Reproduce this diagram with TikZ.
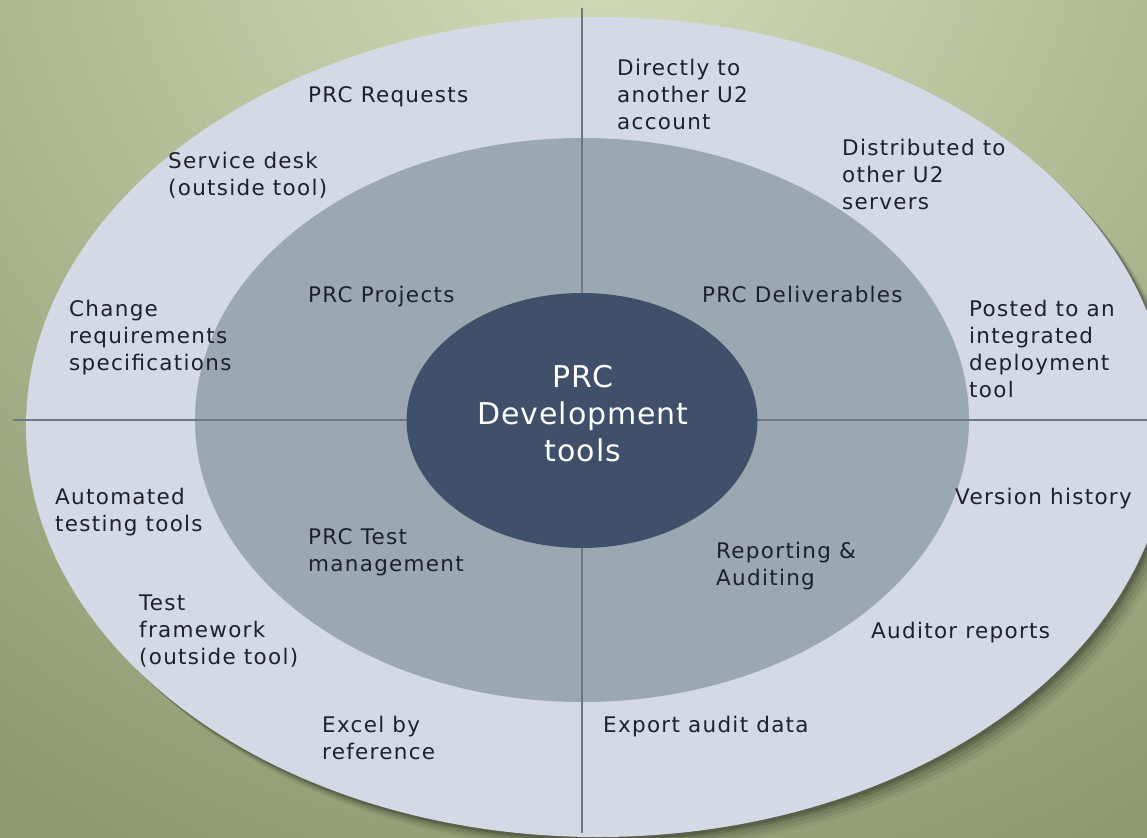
\documentclass[tikz,border=0pt]{standalone}
\usepackage{fontspec}
\setmainfont{DejaVu Sans}
\newfontfamily\lblfont[LetterSpace=6]{DejaVu Sans}
\newfontfamily\ctrfont[LetterSpace=3]{DejaVu Sans}
\usetikzlibrary{shapes.geometric}
\definecolor{bginner}{RGB}{214,222,188}
\definecolor{bgouter}{RGB}{140,152,110}
\definecolor{ringout}{RGB}{212,218,229}
\definecolor{ringmid}{RGB}{155,168,178}
\definecolor{ringcore}{RGB}{64,79,106}
\definecolor{axis}{RGB}{110,119,134}
\definecolor{txt}{RGB}{30,34,40}
\tikzset{
  lbl/.style={anchor=north west, inner sep=0pt, align=left, text=txt,
    font={\lblfont\fontsize{21.5}{27}\selectfont}},
  ctr/.style={inner sep=0pt, align=center, text=white,
    font={\ctrfont\fontsize{30}{37}\selectfont}},
  ring/.style={ellipse, inner sep=0pt, draw=none},
  axisline/.style={draw=axis, line width=1.6pt},
}
\begin{document}
\begin{tikzpicture}[x=1pt, y=-1pt]
\useasboundingbox (0,0) rectangle (1147,837);
% background
\begin{scope}
\clip (-10,-10) rectangle (1157,847);
\fill[bgouter] (-10,-10) rectangle (1157,847);
\shade[inner color=bginner, outer color=bgouter] (600,-120) circle (1100);
% soft shadow of the outer ellipse
\foreach \d/\o in {14/0.05,11/0.07,8/0.09,5/0.12,3/0.14}{
  \fill[black, opacity=\o] (598+\d,427+\d) ellipse [x radius=572, y radius=410];
}
\end{scope}
% rings
\node[ring, fill=ringout, minimum width=1144pt, minimum height=820pt] (outer) at (598,427) {};
\node[ring, fill=ringmid, minimum width=774pt, minimum height=564pt] (middle) at (582,420) {};
% axes
\coordinate (vtop) at (582,8);
\coordinate (vbot) at (582,833);
\coordinate (hleft) at (13,420);
\coordinate (hright) at (1147,420);
\draw[axisline] (vtop) -- (vbot);
\draw[axisline] (hleft) -- (hright);
% core
\node[ring, fill=ringcore, minimum width=351pt, minimum height=255pt] (core) at (582,420.5) {};
\node[ctr] (coretext) at (583,414) {PRC\\Development\\tools};
% labels
\node[lbl] (req) at (308,86) {PRC Requests};
\node[lbl] (desk) at (168,152) {Service desk\\(outside tool)};
\node[lbl] (direct) at (617,59) {Directly to\\another U2\\account};
\node[lbl] (distr) at (842,139) {Distributed to\\other U2\\servers};
\node[lbl] (proj) at (308,286) {PRC Projects};
\node[lbl] (deliv) at (702,286) {PRC Deliverables};
\node[lbl] (change) at (69,300) {Change\\requirements\\specifications};
\node[lbl] (posted) at (969,300) {Posted to an\\integrated\\deployment\\tool};
\node[lbl] (autom) at (55,488) {Automated\\testing tools};
\node[lbl] (version) at (955,488) {Version history};
\node[lbl] (testm) at (308,528) {PRC Test\\management};
\node[lbl] (report) at (716,542) {Reporting \&\\Auditing};
\node[lbl] (framew) at (139,595) {Test\\framework\\(outside tool)};
\node[lbl] (auditor) at (871,622) {Auditor reports};
\node[lbl] (excel) at (322,716) {Excel by\\reference};
\node[lbl] (export) at (603,716) {Export audit data};
\end{tikzpicture}
\end{document}
